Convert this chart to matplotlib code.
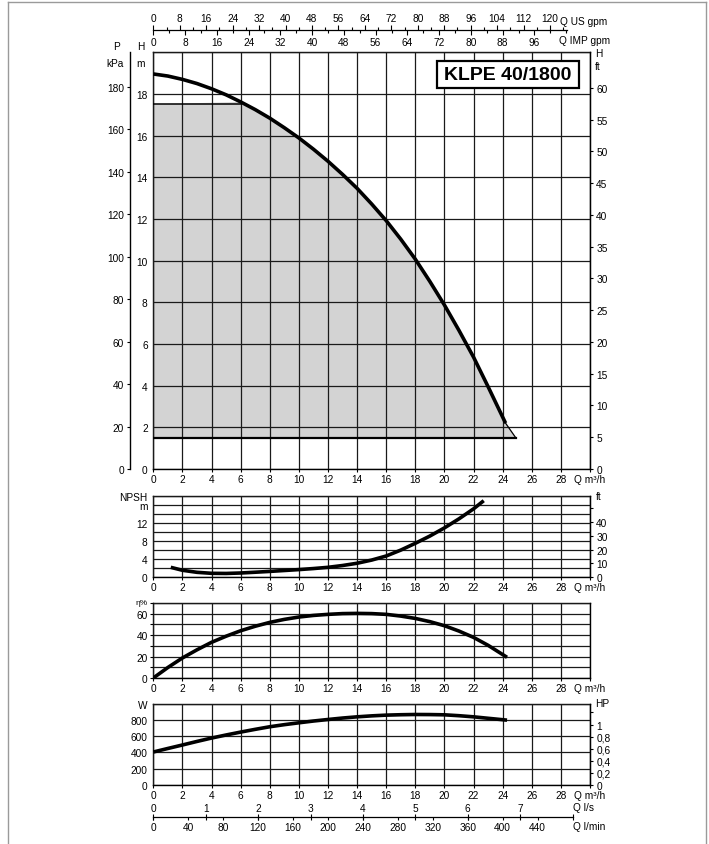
import numpy as np
import matplotlib
matplotlib.use('Agg')
import matplotlib.pyplot as plt
from matplotlib.ticker import MultipleLocator, FixedLocator
from matplotlib.patches import Rectangle
from matplotlib.lines import Line2D

plt.rcParams['font.family'] = ['Liberation Sans', 'DejaVu Sans']
plt.rcParams['font.size'] = 7.3

# ---------------- data ----------------
model = "KLPE 40/1800"

q_head = [0, 1, 2, 3, 4, 5, 6, 7, 8, 9, 10, 11, 12, 13, 14, 15, 16, 17, 18, 19, 20, 21, 22, 23, 24.2]
h_head = [18.96, 18.86, 18.70, 18.50, 18.25, 17.96, 17.62, 17.25, 16.84, 16.38, 15.89, 15.35, 14.77,
          14.14, 13.47, 12.72, 11.92, 11.03, 10.07, 9.0, 7.87, 6.65, 5.37, 3.95, 2.2]

h_duty_top = 17.5     # upper limit of working range (m)
h_duty_min = 1.5      # lower limit of working range (m)
q_duty_end = 24.9     # end of working range (m3/h)

q_npsh = [1.2, 2, 3, 4, 5, 6, 7, 8, 9, 10, 11, 12, 13, 14, 15, 16, 17, 18, 19, 20, 21, 22, 22.7]
npsh = [2.2, 1.55, 1.1, 0.88, 0.85, 0.95, 1.12, 1.3, 1.5, 1.7, 1.93, 2.2, 2.6, 3.1, 3.8, 4.7,
        6.0, 7.5, 9.1, 10.9, 12.9, 15.1, 16.9]

q_eff = [0, 1, 2, 3, 4, 5, 6, 7, 8, 9, 10, 11, 12, 13, 14, 15, 16, 17, 18, 19, 20, 21, 22, 23, 24.3]
eff = [0, 9.8, 18.7, 26.3, 33.3, 39.0, 44.1, 48.3, 51.9, 54.7, 56.9, 58.4, 59.4, 60.1, 60.3,
       60.1, 59.4, 57.8, 55.6, 52.6, 48.8, 43.8, 37.9, 30.5, 19.3]

q_pow = [0, 1, 2, 3, 4, 5, 6, 7, 8, 9, 10, 11, 12, 13, 14, 15, 16, 17, 18, 19, 20, 21, 22, 23, 24.3]
pow_w = [405, 449, 492, 536, 578, 616, 652, 686, 718, 744, 767, 789, 808, 826, 841, 853, 862,
         867, 870, 869, 866, 855, 841, 823, 800]

q_tick_vals = list(range(0, 29, 2))
q_unit_label = "Q m³/h"

# unit conversions
M_TO_FT = 3.2808
M_TO_KPA = 9.81
W_PER_HP = 745.7
M3H_TO_USGPM = 4.4029
M3H_TO_IMPGPM = 3.6662
M3H_PER_LS = 3.6

# ---------------- layout helpers ----------------
W, H = 709, 845
fig = plt.figure(figsize=(W / 100, H / 100), dpi=100)

def px_rect(l, t, r, b):
    return [l / W, 1 - b / H, (r - l) / W, (b - t) / H]

def fx(px):
    return px / W

def fy(py):
    return 1 - py / H

X0, X1 = 153.3, 590.0
QMAX = 30.0
GRID = '#1a1a1a'
CURVE_LW = 2.6

def base(ax, ymax, ygrid):
    ax.set_xlim(0, QMAX)
    ax.set_ylim(0, ymax)
    ax.xaxis.set_major_locator(FixedLocator(q_tick_vals + [QMAX]))
    ax.set_xticklabels([str(v) for v in q_tick_vals] + [q_unit_label])
    ax.yaxis.set_minor_locator(MultipleLocator(ygrid))
    ax.grid(True, which='major', axis='x', color=GRID, lw=0.9)
    ax.grid(True, which='both', axis='y', color=GRID, lw=0.9)
    ax.tick_params(axis='x', length=2.5, pad=1.2, width=0.8)
    ax.tick_params(axis='y', which='both', length=0, pad=4)
    for s in ax.spines.values():
        s.set_linewidth(1.0)
    ax.set_axisbelow(False)

def curve(ax, q, v):
    ax.plot(q, v, color='black', lw=CURVE_LW, zorder=4,
            solid_capstyle='butt', solid_joinstyle='round')

# ---------------- main H-Q chart ----------------
ax = fig.add_axes(px_rect(X0, 53.3, X1, 470))
HMAX = 20
base(ax, HMAX, 2)
ax.set_yticks(np.arange(0, 19, 2))

qh = np.array(q_head)
hh = np.array(h_head)
sel = qh >= 6
poly_q = np.concatenate([[0, 0], qh[sel], [q_duty_end]])
poly_h = np.concatenate([[h_duty_min, h_duty_top], hh[sel], [h_duty_min]])
ax.fill(poly_q, poly_h, color='#d3d3d3', zorder=1, lw=0)
ax.plot([0, 6], [h_duty_top, h_duty_top], color='black', lw=1.1, zorder=3)
ax.plot([0, q_duty_end], [h_duty_min, h_duty_min], color='black', lw=1.6, zorder=3)
ax.plot([q_head[-1], q_duty_end], [h_head[-1], h_duty_min], color='black', lw=0.9, zorder=3)
curve(ax, q_head, h_head)

# pressure kPa axis (outer left)
ax_p = ax.twinx()
ax_p.set_ylim(0, HMAX * M_TO_KPA)
ax_p.yaxis.tick_left()
for k, s in ax_p.spines.items():
    s.set_visible(k == 'left')
ax_p.spines['left'].set_position(('outward', (X0 - 130.3) * 0.72))
ax_p.spines['left'].set_linewidth(1.0)
ax_p.set_yticks(np.arange(0, 181, 20))
ax_p.tick_params(axis='y', length=2.5, width=0.8, pad=2)

# feet axis (right)
ax_f = ax.twinx()
ax_f.set_ylim(0, HMAX * M_TO_FT)
for k, s in ax_f.spines.items():
    s.set_visible(k == 'right')
ax_f.set_yticks(np.arange(0, 61, 5))
ax_f.tick_params(axis='y', length=2.5, width=0.8, pad=2)

fig.text(fx(116), fy(47.3), "P", ha='center', va='center')
fig.text(fx(115), fy(64), "kPa", ha='center', va='center')
fig.text(fx(140.7), fy(47.3), "H", ha='center', va='center')
fig.text(fx(140.5), fy(64), "m", ha='center', va='center')
fig.text(fx(599), fy(54), "H", ha='center', va='center')
fig.text(fx(598), fy(67), "ft", ha='center', va='center')

# model box
box = Rectangle((fx(437), fy(88.5)), fx(579) - fx(437), fy(62) - fy(88.5),
                transform=fig.transFigure, facecolor='white', edgecolor='black',
                lw=1.6, zorder=10)
fig.add_artist(box)
t = fig.text(fx(508), fy(75.5), model, ha='center', va='center', fontsize=14,
             fontweight='bold', family=['Liberation Sans', 'DejaVu Sans'])
t.set_zorder(11)

# ---------------- NPSH ----------------
ax_n = fig.add_axes(px_rect(X0, 496.7, X1, 578.3))
NMAX = 18
base(ax_n, NMAX, 2)
ax_n.set_yticks([0, 4, 8, 12, 16, 18])
ax_n.set_yticklabels(['0', '4', '8', '12', 'm', 'NPSH'])
curve(ax_n, q_npsh, npsh)
ax_nf = ax_n.twinx()
ax_nf.set_ylim(0, NMAX * M_TO_FT)
for k, s in ax_nf.spines.items():
    s.set_visible(k == 'right')
ax_nf.set_yticks([0, 10, 20, 30, 40, 50])
ax_nf.set_yticklabels(['0', '10', '20', '30', '40', ''])
ax_nf.tick_params(axis='y', length=2.5, width=0.8, pad=2)
fig.text(fx(596), fy(496.5), "ft", ha='left', va='center')

# ---------------- efficiency ----------------
ax_e = fig.add_axes(px_rect(X0, 604, X1, 679))
base(ax_e, 70, 10)
ax_e.set_yticks([0, 20, 40, 60])
ax_e.tick_params(axis='y', which='both', length=2, width=0.8, pad=2)
curve(ax_e, q_eff, eff)
fig.text(fx(148), fy(603.5), "η%", ha='right', va='center', fontsize=6)

# ---------------- power ----------------
ax_w = fig.add_axes(px_rect(X0, 705, X1, 785.7))
PMAX = 1000
base(ax_w, PMAX, 200)
ax_w.set_yticks([0, 200, 400, 600, 800, 1000])
ax_w.set_yticklabels(['0', '200', '400', '600', '800', 'W'])
curve(ax_w, q_pow, pow_w)
ax_hp = ax_w.twinx()
ax_hp.set_ylim(0, PMAX / W_PER_HP)
for k, s in ax_hp.spines.items():
    s.set_visible(k == 'right')
hp_ticks = [0, 0.2, 0.4, 0.6, 0.8, 1.0, 1.2]
ax_hp.set_yticks(hp_ticks)
ax_hp.set_yticklabels(['0', '0,2', '0,4', '0,6', '0,8', '1', ''])
ax_hp.tick_params(axis='y', length=2.5, width=0.8, pad=2)
fig.text(fx(595), fy(704), "HP", ha='left', va='center')

# ---------------- top flow axis (gpm) ----------------
q_top_end = 125 / M3H_TO_USGPM
x_top_end = X0 + (X1 - X0) * q_top_end / QMAX
ax_us = fig.add_axes(px_rect(X0, 30.7, x_top_end, 30.7 + 0.001))
ax_im = fig.add_axes(px_rect(X0, 30.7, x_top_end, 30.7 + 0.001))
for a in (ax_us, ax_im):
    a.patch.set_visible(False)
    for s in a.spines.values():
        s.set_visible(False)
    a.set_yticks([])
ax_im.spines['bottom'].set_visible(True)
ax_im.spines['bottom'].set_linewidth(0.9)
ax_us.set_xlim(0, q_top_end * M3H_TO_USGPM)
ax_us.xaxis.tick_top()
ax_us.set_xticks(np.arange(0, 121, 8))
ax_us.xaxis.set_minor_locator(MultipleLocator(4))
ax_us.tick_params(axis='x', which='major', length=3.5, width=0.8, pad=1.5, top=True, bottom=False)
ax_us.tick_params(axis='x', which='minor', length=2, width=0.8, top=True, bottom=False)
ax_im.set_xlim(0, q_top_end * M3H_TO_IMPGPM)
ax_im.set_xticks(np.arange(0, 97, 8))
ax_im.xaxis.set_minor_locator(MultipleLocator(4))
ax_im.tick_params(axis='x', which='major', length=3.5, width=0.8, pad=1.5)
ax_im.tick_params(axis='x', which='minor', length=2, width=0.8)
fig.text(fx(559.5), fy(21.7), "Q US gpm", ha='left', va='center')
fig.text(fx(559), fy(40.7), "Q IMP gpm", ha='left', va='center')

# ---------------- bottom flow axis (l/s, l/min) ----------------
ls_end = 8
x_bot_end = X0 + (X1 - X0) * ls_end * M3H_PER_LS / QMAX
ax_ls = fig.add_axes(px_rect(X0, 817.7, x_bot_end, 817.7 + 0.001))
ax_lm = fig.add_axes(px_rect(X0, 817.7, x_bot_end, 817.7 + 0.001))
for a in (ax_ls, ax_lm):
    a.patch.set_visible(False)
    for s in a.spines.values():
        s.set_visible(False)
    a.set_yticks([])
ax_lm.spines['bottom'].set_visible(True)
ax_lm.spines['bottom'].set_linewidth(0.9)
ax_ls.set_xlim(0, ls_end)
ax_ls.xaxis.tick_top()
ax_ls.set_xticks(range(0, 9))
ax_ls.set_xticklabels([str(v) for v in range(0, 8)] + [''])
ax_ls.tick_params(axis='x', direction='inout', length=5, width=0.8, pad=0.5, top=True, bottom=False)
ax_lm.set_xlim(0, ls_end * 60)
ax_lm.set_xticks(np.arange(0, 441, 40))
ax_lm.tick_params(axis='x', length=2.5, width=0.8, pad=1.5)
fig.text(fx(573), fy(808), "Q l/s", ha='left', va='center')
fig.text(fx(573), fy(827), "Q l/min", ha='left', va='center')

# ---------------- outer frame ----------------
frame_col = '#9a9a9a'
fig.add_artist(Line2D([fx(8), fx(8)], [fy(2.5), 0], transform=fig.transFigure, color=frame_col, lw=1))
fig.add_artist(Line2D([fx(8), fx(706)], [fy(2.5), fy(2.5)], transform=fig.transFigure, color=frame_col, lw=1))
fig.add_artist(Line2D([fx(706), fx(706)], [fy(2.5), 0], transform=fig.transFigure, color=frame_col, lw=1))

fig.savefig('out.png', dpi=100, facecolor='white')
